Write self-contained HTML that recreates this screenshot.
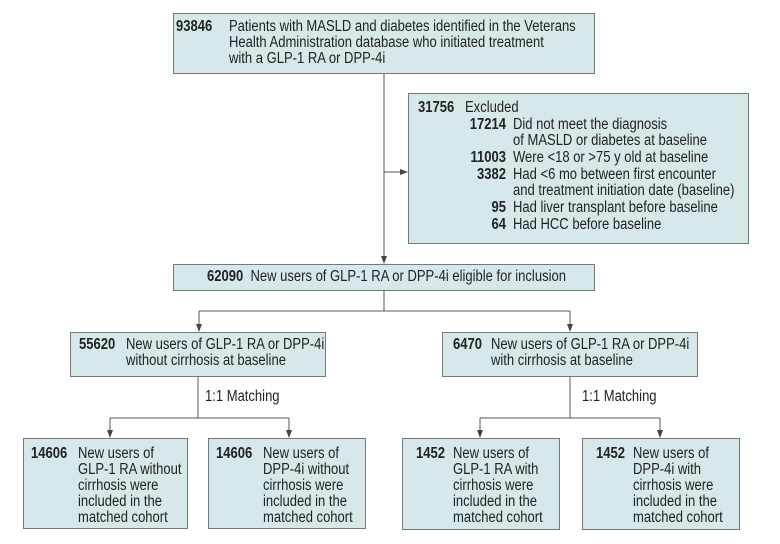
<!DOCTYPE html>
<html><head><meta charset="utf-8"><style>
body{margin:0;width:780px;height:544px;background:#fff;position:relative;overflow:hidden;font-family:"Liberation Sans",sans-serif;font-size:15.5px;color:#222;}
.b{position:absolute;background:#d6e8e9;border:1px solid #6d7b7c;box-sizing:border-box;}
.t{position:absolute;white-space:nowrap;line-height:16px;transform:scaleX(0.84);transform-origin:0 0;}
svg{position:absolute;left:0;top:0;}
</style></head><body>
<svg width="780" height="544">
<defs><marker id="a" markerWidth="8" markerHeight="8" refX="7" refY="4" orient="auto" markerUnits="userSpaceOnUse"><path d="M0,1 L8,4 L0,7 Z" fill="#444"/></marker></defs>
<g stroke="#555" stroke-width="1" fill="none">
<line x1="384" y1="73" x2="384" y2="263" marker-end="url(#a)"/>
<line x1="384" y1="172" x2="407" y2="172" marker-end="url(#a)"/>
<polyline points="384,290 384,311"/>
<polyline points="199,311 570,311"/>
<line x1="199" y1="311" x2="199" y2="331" marker-end="url(#a)"/>
<line x1="570" y1="311" x2="570" y2="331" marker-end="url(#a)"/>
<polyline points="198,376 198,418"/>
<polyline points="110,418 289,418"/>
<line x1="110" y1="418" x2="110" y2="437" marker-end="url(#a)"/>
<line x1="289" y1="418" x2="289" y2="437" marker-end="url(#a)"/>
<polyline points="570,376 570,418"/>
<polyline points="480,418 660,418"/>
<line x1="480" y1="418" x2="480" y2="437" marker-end="url(#a)"/>
<line x1="660" y1="418" x2="660" y2="437" marker-end="url(#a)"/>
</g></svg>

<div class="b" style="left:173px;top:13px;width:422px;height:61px"></div>
<div class="t" style="left:176px;top:19px"><b>93846</b></div>
<div class="t" style="left:229px;top:19px">Patients with MASLD and diabetes identified in the Veterans<br>Health Administration database who initiated treatment<br>with a GLP-1 RA or DPP-4i</div>

<div class="b" style="left:408px;top:93px;width:341px;height:151px"></div>
<div class="t" style="left:418px;top:100px"><b>31756</b></div>
<div class="t" style="left:465px;top:100px">Excluded</div>
<div class="t" style="left:448px;top:117px;width:69px;text-align:right"><b>17214</b></div>
<div class="t" style="left:513px;top:117px">Did not meet the diagnosis<br>of MASLD or diabetes at baseline</div>
<div class="t" style="left:448px;top:150px;width:69px;text-align:right"><b>11003</b></div>
<div class="t" style="left:513px;top:150px">Were &lt;18 or &gt;75 y old at baseline</div>
<div class="t" style="left:448px;top:167px;width:69px;text-align:right"><b>3382</b></div>
<div class="t" style="left:513px;top:167px">Had &lt;6 mo between first encounter<br>and treatment initiation date (baseline)</div>
<div class="t" style="left:448px;top:200px;width:69px;text-align:right"><b>95</b></div>
<div class="t" style="left:513px;top:200px">Had liver transplant before baseline</div>
<div class="t" style="left:448px;top:217px;width:69px;text-align:right"><b>64</b></div>
<div class="t" style="left:513px;top:217px">Had HCC before baseline</div>

<div class="b" style="left:173px;top:264px;width:422px;height:27px"></div>
<div class="t" style="left:207px;top:269px"><b>62090</b>&nbsp; New users of GLP-1 RA or DPP-4i eligible for inclusion</div>

<div class="b" style="left:70px;top:332px;width:256px;height:45px"></div>
<div class="t" style="left:79px;top:337px"><b>55620</b></div>
<div class="t" style="left:126px;top:337px">New users of GLP-1 RA or DPP-4i<br>without cirrhosis at baseline</div>

<div class="b" style="left:442px;top:332px;width:256px;height:45px"></div>
<div class="t" style="left:453px;top:337px"><b>6470</b></div>
<div class="t" style="left:491px;top:337px">New users of GLP-1 RA or DPP-4i<br>with cirrhosis at baseline</div>

<div class="t" style="left:205px;top:389px">1:1 Matching</div>
<div class="t" style="left:582px;top:389px">1:1 Matching</div>

<div class="b" style="left:23px;top:438px;width:165px;height:91px"></div>
<div class="t" style="left:31px;top:446px"><b>14606</b></div>
<div class="t" style="left:78px;top:446px">New users of<br>GLP-1 RA without<br>cirrhosis were<br>included in the<br>matched cohort</div>

<div class="b" style="left:208px;top:438px;width:158px;height:91px"></div>
<div class="t" style="left:216px;top:446px"><b>14606</b></div>
<div class="t" style="left:263px;top:446px">New users of<br>DPP-4i without<br>cirrhosis were<br>included in the<br>matched cohort</div>

<div class="b" style="left:402px;top:438px;width:158px;height:92px"></div>
<div class="t" style="left:416px;top:446px"><b>1452</b></div>
<div class="t" style="left:453px;top:446px">New users of<br>GLP-1 RA with<br>cirrhosis were<br>included in the<br>matched cohort</div>

<div class="b" style="left:582px;top:438px;width:158px;height:92px"></div>
<div class="t" style="left:596px;top:446px"><b>1452</b></div>
<div class="t" style="left:633px;top:446px">New users of<br>DPP-4i with<br>cirrhosis were<br>included in the<br>matched cohort</div>
</body></html>
